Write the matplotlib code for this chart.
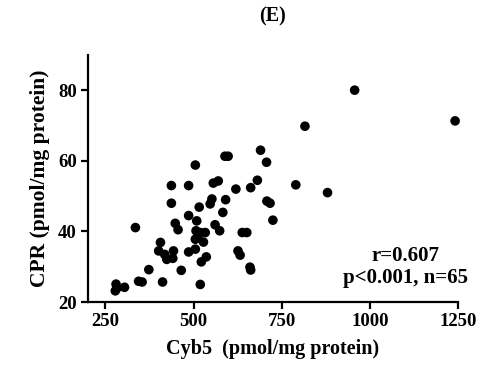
import matplotlib
matplotlib.use("Agg")
from matplotlib import pyplot as plt

# Cyb5 vs CPR
cyb5 = [335, 280, 278, 304, 344, 354, 373, 412, 406, 401, 418, 424, 443, 441,
        437, 437, 448, 456, 465, 486, 486, 486, 505, 509, 507, 505, 505, 516,
        519, 533, 522, 536, 519, 547, 552, 556, 570, 561, 574, 583, 589, 598,
        591, 620, 626, 632, 638, 651, 660, 662, 662, 681, 690, 707, 708, 717,
        725, 790, 816, 880, 957, 1242, 512, 528, 283]
cpr = [41.1, 25.1, 23.2, 24.2, 25.9, 25.7, 29.2, 25.7, 36.9, 34.5, 33.5, 32.1,
       34.5, 32.4, 53.0, 48.0, 42.3, 40.5, 29.0, 53.0, 44.5, 34.2, 58.8, 43.0,
       40.2, 37.8, 35.0, 46.9, 39.7, 39.7, 31.4, 32.8, 25.0, 47.8, 49.2, 53.7,
       54.3, 41.9, 40.2, 45.4, 61.3, 61.3, 49.0, 52.0, 34.5, 33.3, 39.7, 39.7,
       29.9, 29.1, 52.4, 54.5, 63.0, 59.6, 48.6, 48.0, 43.2, 53.2, 69.8, 51.0,
       80.0, 71.3, 38.5, 37.0, 24.0]

x_ticks = [250, 500, 750, 1000, 1250]
y_ticks = [20, 40, 60, 80]

FONT = "Liberation Serif"

fig = plt.figure(figsize=(4.8, 3.68), dpi=100)
ax = fig.add_axes([0.183, 0.179, 0.771, 0.672])

ax.scatter(cyb5, cpr, s=48, color="black", edgecolors="none", zorder=3,
           clip_on=False)

ax.set_xlim(200, 1250)
ax.set_ylim(20, 90)
ax.set_xticks(x_ticks)
ax.set_yticks(y_ticks)

for side in ["top", "right"]:
    ax.spines[side].set_visible(False)
for side in ["left", "bottom"]:
    ax.spines[side].set_linewidth(1.6)

ax.tick_params(width=1.6, length=5, direction="out", pad=3)
for lbl in ax.get_xticklabels() + ax.get_yticklabels():
    lbl.set_fontfamily(FONT)
    lbl.set_fontweight("bold")
    lbl.set_fontsize(13.5)

ax.set_xlabel("Cyb5  (pmol/mg protein)", fontfamily=FONT, fontweight="bold",
              fontsize=14.5, labelpad=6)
ax.set_ylabel("CPR (pmol/mg protein)", fontfamily=FONT, fontweight="bold",
              fontsize=15.5, labelpad=6)
ax.set_title("(E)", fontfamily=FONT, fontweight="bold", fontsize=14.5, pad=24)

ax.text(1102, 30, "r=0.607\np<0.001, n=65", ha="center", va="center",
        multialignment="center", fontfamily=FONT, fontweight="bold",
        fontsize=15, linespacing=1.1)

fig.savefig("out.png", dpi=100)
